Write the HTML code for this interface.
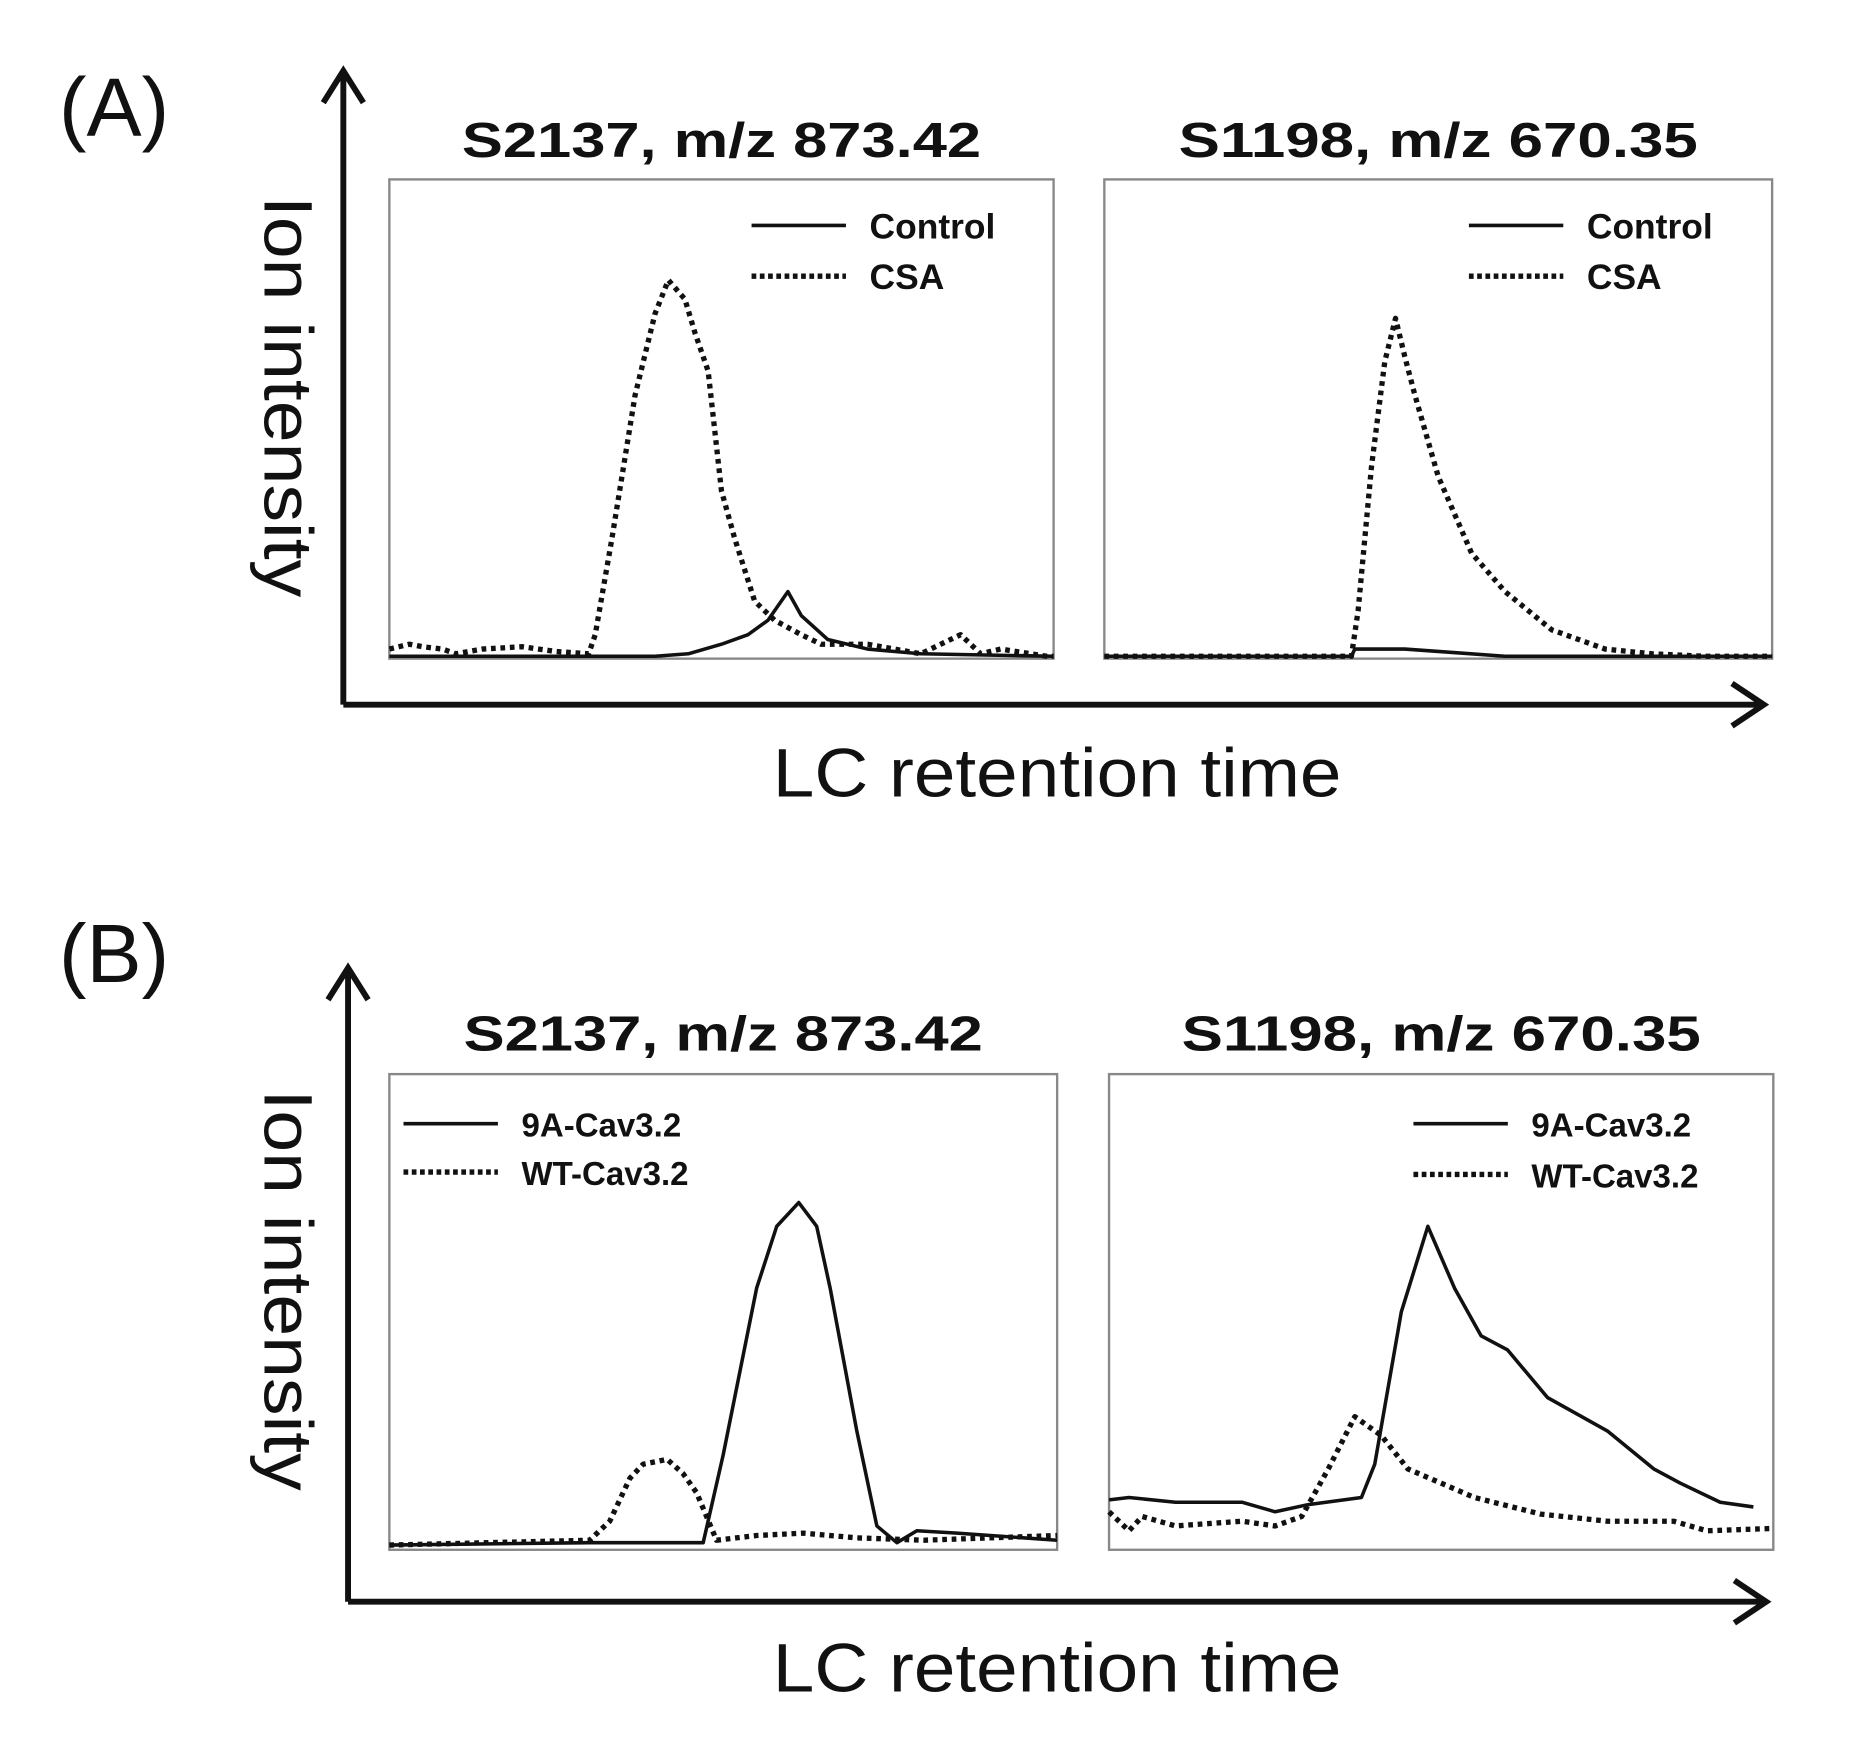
<!DOCTYPE html>
<html><head><meta charset="utf-8"><style>
html,body{margin:0;padding:0;background:#fff}
svg{display:block}
text{font-family:"Liberation Sans",sans-serif;fill:#111}
</style></head><body>
<svg id="fig" width="1850" height="1741" viewBox="0 0 1568 1475" preserveAspectRatio="none" xmlns="http://www.w3.org/2000/svg">
<g id="static"></g>
</svg>
<script>
// Panel A1: S2137 Control vs CSA (x in % of retention window, y in % of box height)
const a1CsaX=[0,3,5,8,10,14,20,25,30,31,33.5,37,40,42,44.5,46,48,50,52,55,58,62,65,72,80,86,89,92,99,100];
const a1CsaY=[2,3,2.5,2,1,2,2.5,1.5,1,5,25,55,72,79,75,68,60,35,25,12,8,5,3,3,1,5,1,2,0.5,0.5];
const a1CtlX=[0,20,40,45,50,54,57,60,62,66,72,80,100];
const a1CtlY=[0.5,0.5,0.5,1,3,5,8,14,9,4,2,1,0.5];
// Panel A2: S1198 Control vs CSA
const a2CsaX=[0,20,37,38,40,42,43.6,45,46.5,50,55,60,67,75,82,90,100];
const a2CsaY=[0.5,0.5,0.5,10,40,62,71,63,55,38,22,14,6,2,1,0.5,0.5];
const a2CtlX=[0,20,37,37.5,45,50,60,100];
const a2CtlY=[0.5,0.5,0.5,2,2,1.5,0.5,0.5];
// Panel B1: S2137 9A vs WT
const b1MutX=[0,30,47,50,55,58,61.3,64,66,70,73,76,79,85,100];
const b1MutY=[1,1.5,1.5,20,55,68,73,68,55,25,5,1.5,4,3.5,2];
const b1WtX=[0,30,33,36,38,41.6,44,46,49,55,62,70,80,100];
const b1WtY=[1,2,6,15,18,19,16,12,2,3,3.5,2.5,2,3];
// Panel B2: S1198 9A vs WT
const b2MutX=[0,3,10,20,25,30,38,40,44,48,52,56,60,66,75,82,86,92,97];
const b2MutY=[10.5,11,10,10,8,9.5,11,18,50,68,55,45,42,32,25,17,14,10,9];
const b2WtX=[0,3,5,10,20,25,29,33,37,41,45,55,65,75,85,90,100];
const b2WtY=[8,4,7,5,6,5,7,17,28,24,17,11,7.5,6,6,4,4.5];

const NS='http://www.w3.org/2000/svg';
const svg=document.getElementById('static');
function mk(tag,attrs,parent){const e=document.createElementNS(NS,tag);for(const k in attrs)e.setAttribute(k,attrs[k]);(parent||svg).appendChild(e);return e;}

const panels=[
 {id:'a-s2137',x0:330,x1:893,y0:152,y1:558,title:'S2137, m/z 873.42',ty:133,
  s:[{n:'Control',x:a1CtlX,y:a1CtlY,d:false},{n:'CSA',x:a1CsaX,y:a1CsaY,d:true}],lx:637,ly:[191,234],fs:30},
 {id:'a-s1198',x0:936,x1:1502,y0:152,y1:558,title:'S1198, m/z 670.35',ty:133,
  s:[{n:'Control',x:a2CtlX,y:a2CtlY,d:false},{n:'CSA',x:a2CsaX,y:a2CsaY,d:true}],lx:1245,ly:[191,234],fs:30},
 {id:'b-s2137',x0:330,x1:896,y0:910,y1:1313,title:'S2137, m/z 873.42',ty:890,
  s:[{n:'9A-Cav3.2',x:b1MutX,y:b1MutY,d:false},{n:'WT-Cav3.2',x:b1WtX,y:b1WtY,d:true}],lx:342,ly:[952,993],fs:28},
 {id:'b-s1198',x0:940,x1:1503,y0:910,y1:1313,title:'S1198, m/z 670.35',ty:890,
  s:[{n:'9A-Cav3.2',x:b2MutX,y:b2MutY,d:false},{n:'WT-Cav3.2',x:b2WtX,y:b2WtY,d:true}],lx:1198,ly:[952,995],fs:28}
];

panels.forEach(p=>{
  const g=mk('g',{});
  
  
  const sx=v=>p.x0+(p.x1-p.x0)*v/100;
  const sy=v=>p.y1-(p.y1-p.y0)*v/100;
  const r=mk('rect',{x:p.x0,y:p.y0,width:p.x1-p.x0,height:p.y1-p.y0,fill:'#fff',stroke:'#888','stroke-width':2},g);
  
  
  const t=mk('text',{x:(p.x0+p.x1)/2,y:p.ty,'text-anchor':'middle','font-size':42,'font-weight':'bold',textLength:440,lengthAdjust:'spacingAndGlyphs'},g);
  t.textContent=p.title;
  
  
  p.s.forEach((s,i)=>{
    const pts=s.x.map((xv,j)=>sx(xv).toFixed(1)+','+sy(s.y[j]).toFixed(1)).join(' ');
    const l=mk('polyline',{points:pts,fill:'none',stroke:'#111','stroke-width':s.d?4.5:3,'stroke-dasharray':s.d?'4 4':'none','stroke-linejoin':'round'},g);
    
    
    const ll=mk('line',{x1:p.lx,x2:p.lx+80,y1:p.ly[i],y2:p.ly[i],stroke:'#111','stroke-width':s.d?4.5:3,'stroke-dasharray':s.d?'4 3':'none'},g);
    
    
    const lt=mk('text',{x:p.lx+100,y:p.ly[i]+11,'font-size':p.fs,'font-weight':'bold',fill:'#222'},g);
    lt.textContent=s.n;
    
    
  });
});

// axes
[{top:60,bot:597,x:291,right:1495,lab:'(A)',ly:115,lcy:675,iy:336},
 {top:820,bot:1357,x:295,right:1497,lab:'(B)',ly:832,lcy:1433,iy:1093}].forEach((a,k)=>{
  const g=mk('g',{});
  
  
  mk('path',{d:`M${a.x},${a.bot} V${a.top} M${a.x-17},${a.top+27} L${a.x},${a.top} L${a.x+17},${a.top+27} M${a.x},${a.bot} H${a.right} M${a.right-27},${a.bot-18} L${a.right},${a.bot} L${a.right-27},${a.bot+18}`,fill:'none',stroke:'#111','stroke-width':5},g);
  const pl=mk('text',{x:50,y:a.ly,'font-size':70},g);pl.textContent=a.lab;
  
  
  const xl=mk('text',{x:896,y:a.lcy,'text-anchor':'middle','font-size':58,textLength:482,lengthAdjust:'spacingAndGlyphs'},g);xl.textContent='LC retention time';
  
  
  const yl=mk('text',{x:0,y:0,'text-anchor':'middle','font-size':58,textLength:340,lengthAdjust:'spacingAndGlyphs',transform:`translate(224,${a.iy}) rotate(90)`},g);yl.textContent='Ion intensity';
  
  
});
</script>
</body></html>
